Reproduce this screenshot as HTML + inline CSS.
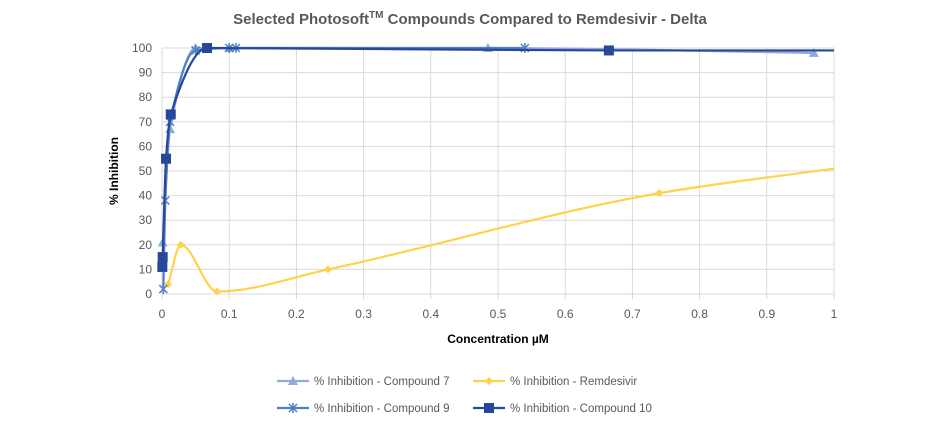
<!DOCTYPE html>
<html><head><meta charset="utf-8"><style>
body{margin:0;background:#fff;font-family:"Liberation Sans",sans-serif}
svg text{font-family:"Liberation Sans",sans-serif}
</style></head><body>
<svg id="chart" width="940" height="428" viewBox="0 0 940 428">
<text x="470" y="24" text-anchor="middle" font-size="15" font-weight="bold" fill="#595959">Selected Photosoft<tspan font-size="10" dy="-6">TM</tspan><tspan dy="6"> Compounds Compared to Remdesivir - Delta</tspan></text>
<g id="grid"></g>
<g id="axes"></g>
<g id="series"></g>
<text x="498" y="343" text-anchor="middle" font-size="12" font-weight="bold" fill="#000">Concentration µM</text>
<text transform="translate(118,171) rotate(-90)" text-anchor="middle" font-size="12" font-weight="bold" fill="#000">% Inhibition</text>
<g id="legend"></g>
</svg>
<script>
const xTicks=[0,0.1,0.2,0.3,0.4,0.5,0.6,0.7,0.8,0.9,1];
const xTickLabels=["0","0.1","0.2","0.3","0.4","0.5","0.6","0.7","0.8","0.9","1"];
const yTicks=[0,10,20,30,40,50,60,70,80,90,100];
const c7X=[0.001,0.012,0.05,0.1,0.485,0.97];
const c7Y=[21,67,100,100,100,98];
const remX=[0.009,0.028,0.082,0.247,0.74,1];
const remY=[4,20,1,10,41,51];
const c9X=[0.002,0.005,0.012,0.05,0.1,0.11,0.54];
const c9Y=[2,38,70,99,100,100,100];
const c10X=[0.0005,0.001,0.006,0.013,0.067,0.665,1];
const c10Y=[11,15,55,73,100,99,99];
const X0=162,X1=834,Y0=294,Y1=48;
const sx=v=>X0+v*(X1-X0), sy=v=>Y0-v/100*(Y0-Y1);
const NS="http://www.w3.org/2000/svg";
function mk(t,a,p){const e=document.createElementNS(NS,t);for(const k in a)e.setAttribute(k,a[k]);p.appendChild(e);return e;}
const grid=document.getElementById('grid'),axes=document.getElementById('axes');
yTicks.forEach(v=>{const l=mk('line',{x1:X0,x2:X1,y1:sy(v),y2:sy(v),stroke:'#d9d9d9'},grid);


const t=mk('text',{x:X0-10,y:sy(v)+4,'text-anchor':'end','font-size':12,fill:'#595959'},axes);t.textContent=v;

});
xTicks.forEach((v,i)=>{const l=mk('line',{x1:sx(v),x2:sx(v),y1:Y1,y2:Y0+5,stroke:'#d9d9d9'},grid);


const t=mk('text',{x:sx(v),y:Y0+24,'text-anchor':'middle','font-size':12,fill:'#595959'},axes);t.textContent=xTickLabels[i];

});
// monotone cubic in pixel space (x monotone)
function path(xs,ys){const p=xs.map((x,i)=>[sx(x),sy(ys[i])]);const n=p.length;
const d=[],m=new Array(n);
for(let i=0;i<n-1;i++){const dx=p[i+1][0]-p[i][0];d.push(dx===0?0:(p[i+1][1]-p[i][1])/dx);}
m[0]=d[0];m[n-1]=d[n-2];
for(let i=1;i<n-1;i++){if(d[i-1]*d[i]<=0)m[i]=0;else m[i]=2/(1/d[i-1]+1/d[i]);}
let s=`M${p[0][0]},${p[0][1]}`;
for(let i=0;i<n-1;i++){const h=(p[i+1][0]-p[i][0])/3;
s+=` C${p[i][0]+h},${p[i][1]+m[i]*h} ${p[i+1][0]-h},${p[i+1][1]-m[i+1]*h} ${p[i+1][0]},${p[i+1][1]}`;}
return s;}
function marker(type,x,y,col,g){let e;
if(type==='tri')e=mk('polygon',{points:`${x},${y-5} ${x-5},${y+4} ${x+5},${y+4}`,fill:col},g);
else if(type==='dia')e=mk('polygon',{points:`${x},${y-4} ${x+4},${y} ${x},${y+4} ${x-4},${y}`,fill:col},g);
else if(type==='sq')e=mk('rect',{x:x-5,y:y-5,width:10,height:10,fill:col},g);
else{e=mk('path',{d:`M${x-4},${y-4}L${x+4},${y+4}M${x-4},${y+4}L${x+4},${y-4}M${x},${y-5}L${x},${y+5}`,stroke:col,'stroke-width':1.5},g);}
return e;}
const ser=document.getElementById('series');
const S=[[remX,remY,'#ffd24d','dia','remdesivir'],[c7X,c7Y,'#8eaadf','tri','compound-7'],[c9X,c9Y,'#4f81c4','x','compound-9'],[c10X,c10Y,'#27489a','sq','compound-10']];
S.forEach(([xs,ys,col,m,n])=>{const g=mk('g',{},ser);


const l=mk('path',{d:path(xs,ys),fill:'none',stroke:col,'stroke-width':2.2},g);


xs.forEach((x,i)=>{if(x>=1)return;const e=marker(m,sx(x),sy(ys[i]),col,g);

});});
const leg=document.getElementById('legend');
const L=[[277,381,'#8eaadf','tri','% Inhibition - Compound 7'],[473,381,'#ffd24d','dia','% Inhibition - Remdesivir'],[277,408,'#4f81c4','x','% Inhibition - Compound 9'],[473,408,'#27489a','sq','% Inhibition - Compound 10']];
L.forEach(([x,y,col,m,t])=>{const g=mk('g',{},leg);


mk('line',{x1:x,x2:x+32,y1:y,y2:y,stroke:col,'stroke-width':2.2},g);marker(m,x+16,y,col,g);
const tx=mk('text',{x:x+37,y:y+4,'font-size':11.5,fill:'#595959'},g);tx.textContent=t;});
</script>
</body></html>
